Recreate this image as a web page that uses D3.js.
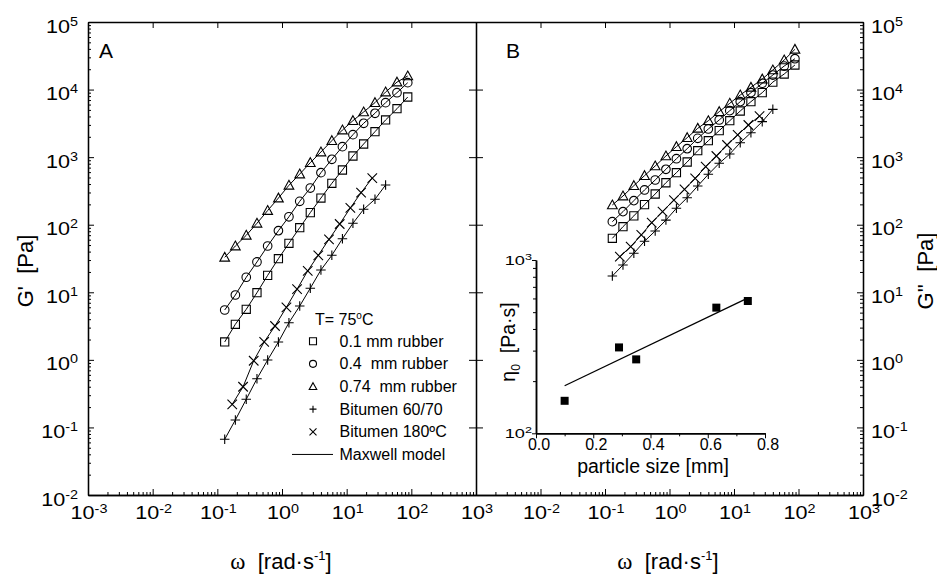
<!DOCTYPE html>
<html><head><meta charset="utf-8">
<script src="https://cdn.jsdelivr.net/npm/d3@7"></script>
<style>
body{margin:0;background:#fff}
text{font-family:"Liberation Sans",Arial,sans-serif;fill:#000;white-space:pre}
</style>
</head><body>
<svg id="c" width="937" height="575" xml:space="preserve"></svg>
<script>
// ---------------- data ----------------
const omega = [0.13, 0.19, 0.28, 0.41, 0.60, 0.88, 1.28, 1.88, 2.74, 4.0, 5.9, 8.6, 12.5, 18.3, 27.4, 40, 60, 88];
const omegaBit = [0.17, 0.25, 0.365, 0.53, 0.78, 1.17, 1.71, 2.5, 3.64, 5.33, 7.8, 11.4, 16.7, 24.9];

// Panel A : G'
const gA_r01  = [1.84, 3.36, 5.60, 9.86, 17.8, 31.4, 53.1, 90.4, 151, 248, 410, 645, 1040, 1565, 2380, 3550, 5210, 7760];
const gA_r04  = [5.47, 9.12, 16.7, 28.1, 48.4, 81.5, 131, 222, 349, 589, 929, 1429, 2149, 3170, 4456, 6400, 8990, 12650];
const gA_r074 = [32.9, 48.4, 69.7, 105, 162, 248, 383, 562, 828, 1191, 1752, 2520, 3465, 4660, 6400, 9200, 12900, 15900];
const gA_b6070 = [0.0667, 0.129, 0.261, 0.526, 0.995, 1.84, 3.55, 6.27, 11.5, 21.4, 35.3, 62.1, 105, 169, 238, 387];
const gA_b180  = [0.22, 0.40, 0.97, 1.84, 3.17, 6.0, 11.1, 20.8, 35.3, 60.8, 102.5, 177, 298, 491];

// Panel B : G''
const gB_r01  = [62.9, 93.5, 135, 198, 285, 418, 589, 848, 1245, 1750, 2466, 3460, 4820, 6620, 9000, 12900, 17000, 23100];
const gB_r04  = [111, 156, 227, 327, 459, 661, 948, 1334, 1900, 2610, 3550, 4870, 6620, 9000, 12400, 16400, 22300, 28600];
const gB_r074 = [196, 266, 378, 532, 740, 1040, 1429, 1940, 2670, 3460, 4710, 6270, 8310, 10800, 14300, 19500, 27400, 39400];
const gB_b6070 = [17.4, 25.4, 37.8, 56.9, 80.8, 117, 175, 251, 374, 557, 811, 1113, 1636, 2300, 3350, 5100];
const gB_b180  = [33.6, 47.3, 70.5, 107, 156, 232, 334, 486, 722, 1040, 1513, 2128, 2990, 4060];

// Inset : zero shear viscosity vs particle size
const particleSize = [0.10, 0.29, 0.35, 0.63, 0.74];
const eta0 = [154, 313, 267, 531, 580];
const fitSize = [0.10, 0.73];
const fitEta = [188, 593];

// ticks
const xExp = [-3, -2, -1, 0, 1, 2, 3];
const yExp = [-2, -1, 0, 1, 2, 3, 4, 5];
const legendTitle = "T= 75";
const legendLabels = ["0.1 mm rubber", "0.4  mm rubber", "0.74  mm rubber", "Bitumen 60/70", "Bitumen 180\u00BAC", "Maxwell model"];
const legendMarks = ["square", "circle", "triangle", "plus", "cross", "line"];
const insetXTicks = [0, 0.2, 0.4, 0.6, 0.8];
const insetXMinor = [0.1, 0.3, 0.5, 0.7];
const insetYExp = [2, 3];

// ---------------- drawing ----------------
const svg = d3.select("#c");
const FONT = '"Liberation Sans",Arial,sans-serif';
const xA = d3.scaleLog().domain([1e-3, 1e3]).range([88, 476]);
const xB = d3.scaleLog().domain([1e-3, 1e3]).range([476, 863]);
const y = d3.scaleLog().domain([1e-2, 1e5]).range([495, 22]);

const xMajor = xExp.map(e => Math.pow(10, e));
const yMajor = yExp.map(e => Math.pow(10, e));
const xMinor = [], yMinor = [];
for (let k = -3; k < 3; k++) for (let m = 2; m <= 9; m++) xMinor.push(m * Math.pow(10, k));
for (let k = -2; k < 5; k++) for (let m = 2; m <= 9; m++) yMinor.push(m * Math.pow(10, k));

function ax(axisFn, tx, ty, vals, size, dw) {
  const g = svg.append("g").attr("transform", `translate(${tx},${ty})`)
    .call(axisFn.tickValues(vals).tickSize(size).tickSizeOuter(0).tickFormat(() => ""));
  g.selectAll("path.domain").attr("stroke", "#000").attr("stroke-width", dw || 1.3);
  g.selectAll(".tick line").attr("stroke", "#000").attr("stroke-width", 1);
  g.selectAll(".tick text").remove();
  return g;
}
// Panel A frame
ax(d3.axisLeft(y), 88, 0, yMajor, -6);
ax(d3.axisLeft(y), 88, 0, yMinor, -3);
ax(d3.axisBottom(xA), 0, 495, xMajor, -6);
ax(d3.axisBottom(xA), 0, 495, xMinor, -3);
ax(d3.axisTop(xA), 0, 22, xMajor, -6);
// divider
ax(d3.axisLeft(y), 476, 0, yMajor, 7);
ax(d3.axisRight(y), 476, 0, yMajor, 7);
// Panel B frame
ax(d3.axisTop(xB), 0, 22, xMajor, -6);
ax(d3.axisBottom(xB), 0, 495, xMajor, -6);
ax(d3.axisBottom(xB), 0, 495, xMinor, -3);
ax(d3.axisRight(y), 863, 0, yMajor, -6);
ax(d3.axisRight(y), 863, 0, yMinor, -3);

// power-of-ten label
function pow10(x, yy, e, anchor, size, sup, rise, sx) {
  const g = svg.append("g").attr("transform", `translate(${x},${yy}) scale(${sx},1)`);
  const t = g.append("text").attr("text-anchor", anchor).attr("font-size", size).text("10");
  t.append("tspan").attr("font-size", sup).attr("dy", -rise).text(String(e).replace("-", "-"));
  return g;
}
yExp.forEach(e => {
  pow10(78, y(Math.pow(10, e)) + 10.5, e, "end", 18, 12, 7, 1.2);
  pow10(871, y(Math.pow(10, e)) + 10.5, e, "start", 18, 12, 7, 1.2);
});
xExp.forEach(e => pow10(xA(Math.pow(10, e)) + 1, 519, e, "middle", 18, 12, 6, 1.2));
xExp.filter(e => e > -3).forEach(e => pow10(xB(Math.pow(10, e)) + 1, 519, e, "middle", 18, 12, 6, 1.2));

// axis titles
function xTitle(cx) {
  const t = svg.append("text").attr("x", cx).attr("y", 569).attr("text-anchor", "middle").attr("font-size", 22);
  t.append("tspan").attr("font-family", '"Liberation Serif","Times New Roman",serif').attr("font-size", 23).text("\u03C9");
  t.append("tspan").text("  [rad\u00B7s");
  t.append("tspan").attr("font-size", 13).attr("dy", -9).text("-1");
  t.append("tspan").attr("dy", 9).text("]");
}
xTitle(281); xTitle(668);
svg.append("text").attr("transform", "translate(33,271) rotate(-90)").attr("text-anchor", "middle")
  .attr("font-size", 22).text("G'  [Pa]");
svg.append("text").attr("transform", "translate(933,271) rotate(-90)").attr("text-anchor", "middle")
  .attr("font-size", 22).text("G''  [Pa]");
svg.append("text").attr("x", 99).attr("y", 58).attr("font-size", 21).text("A");
svg.append("text").attr("x", 506).attr("y", 58).attr("font-size", 21).text("B");

// markers
function markPath(type, cx, cy, s) {
  const h = s / 2;
  switch (type) {
    case "square": return `M${cx - h},${cy - h}h${s}v${s}h${-s}Z`;
    case "circle": return `M${cx - h},${cy}a${h},${h} 0 1,0 ${s},0a${h},${h} 0 1,0 ${-s},0Z`;
    case "triangle": return `M${cx},${cy - h * 1.1}L${cx + h * 1.08},${cy + h * 0.85}L${cx - h * 1.08},${cy + h * 0.85}Z`;
    case "plus": return `M${cx - h},${cy}h${s}M${cx},${cy - h}v${s}`;
    case "cross": return `M${cx - h},${cy - h}L${cx + h},${cy + h}M${cx - h},${cy + h}L${cx + h},${cy - h}`;
  }
}
const sizes = {square: 8.2, circle: 8.6, triangle: 9, plus: 9.5, cross: 9.5};

function drawSeries(xs, w, g, type) {
  const pts = w.map((d, i) => [d, g[i]]);
  const line = d3.line().x(d => xs(d[0])).y(d => y(d[1]));
  svg.append("path").attr("d", line(pts)).attr("fill", "none").attr("stroke", "#000").attr("stroke-width", 1);
  svg.append("g").selectAll("path").data(pts).join("path")
    .attr("d", d => markPath(type, xs(d[0]), y(d[1]), sizes[type]))
    .attr("fill", "none").attr("stroke", "#000").attr("stroke-width", 1.1);
}
drawSeries(xA, omega, gA_r01, "square");
drawSeries(xA, omega, gA_r04, "circle");
drawSeries(xA, omega, gA_r074, "triangle");
drawSeries(xA, omega.slice(0, gA_b6070.length), gA_b6070, "plus");
drawSeries(xA, omegaBit, gA_b180, "cross");
drawSeries(xB, omega, gB_r01, "square");
drawSeries(xB, omega, gB_r04, "circle");
drawSeries(xB, omega, gB_r074, "triangle");
drawSeries(xB, omega.slice(0, gB_b6070.length), gB_b6070, "plus");
drawSeries(xB, omegaBit, gB_b180, "cross");

// legend
const lt = svg.append("text").attr("x", 315).attr("y", 325).attr("font-size", 16).text(legendTitle);
lt.append("tspan").attr("font-size", 10).attr("dy", -6).text("o");
lt.append("tspan").attr("dy", 6).text("C");
legendLabels.forEach((lab, i) => {
  const by = 346.7 + i * 22.65;
  svg.append("text").attr("x", 339.5).attr("y", by).attr("font-size", 16).text(lab);
  const m = legendMarks[i];
  if (m === "line") {
    svg.append("line").attr("x1", 292).attr("x2", 333).attr("y1", by - 5.5).attr("y2", by - 5.5)
      .attr("stroke", "#000").attr("stroke-width", 1);
  } else {
    svg.append("path").attr("d", markPath(m, 313, by - 5.5, 7)).attr("fill", "none")
      .attr("stroke", "#000").attr("stroke-width", 1.1);
  }
});

// inset
const xi = d3.scaleLinear().domain([0, 0.8]).range([536, 765]);
const yi = d3.scaleLog().domain([100, 1000]).range([433.3, 260]);
const yiMinor = [];
for (let m = 2; m <= 9; m++) yiMinor.push(m * 100);
function axI(axisFn, tx, ty, vals, size) {
  const g = svg.append("g").attr("transform", `translate(${tx},${ty})`)
    .call(axisFn.tickValues(vals).tickSize(size).tickSizeOuter(0).tickFormat(() => ""));
  g.selectAll("path.domain").attr("stroke", "#000").attr("stroke-width", 1.5);
  g.selectAll(".tick line").attr("stroke", "#000").attr("stroke-width", 1);
  g.selectAll(".tick text").remove();
}
axI(d3.axisLeft(yi), 536, 0, insetYExp.map(e => Math.pow(10, e)), 4);
axI(d3.axisLeft(yi), 536, 0, yiMinor, 3);
axI(d3.axisBottom(xi), 0, 433.3, insetXTicks, 5);
axI(d3.axisBottom(xi), 0, 433.3, insetXMinor, 3);
insetYExp.forEach(e => pow10(532, yi(Math.pow(10, e)) + 4.5, e, "end", 13, 9, 5, 1.4));
insetXTicks.forEach(v => svg.append("text").attr("x", xi(v) + 3).attr("y", 450).attr("text-anchor", "middle")
  .attr("font-size", 16).text(v.toFixed(1)));
svg.append("text").attr("x", 653).attr("y", 473).attr("text-anchor", "middle").attr("font-size", 19.5)
  .text("particle size [mm]");
const il = svg.append("text").attr("transform", "translate(515,342) rotate(-90)").attr("text-anchor", "middle")
  .attr("font-size", 19.5);
il.append("tspan").text("\u03B7");
il.append("tspan").attr("font-size", 12).attr("dy", 5).text("0");
il.append("tspan").attr("dy", -5).text("  [Pa\u00B7s]");

svg.append("path").attr("d", d3.line().x(d => xi(d[0])).y(d => yi(d[1]))(fitSize.map((s, i) => [s, fitEta[i]])))
  .attr("fill", "none").attr("stroke", "#000").attr("stroke-width", 1.3);
svg.append("g").selectAll("rect").data(particleSize.map((s, i) => [s, eta0[i]])).join("rect")
  .attr("x", d => xi(d[0]) - 4).attr("y", d => yi(d[1]) - 4).attr("width", 8).attr("height", 8).attr("fill", "#000");
</script>
</body></html>
